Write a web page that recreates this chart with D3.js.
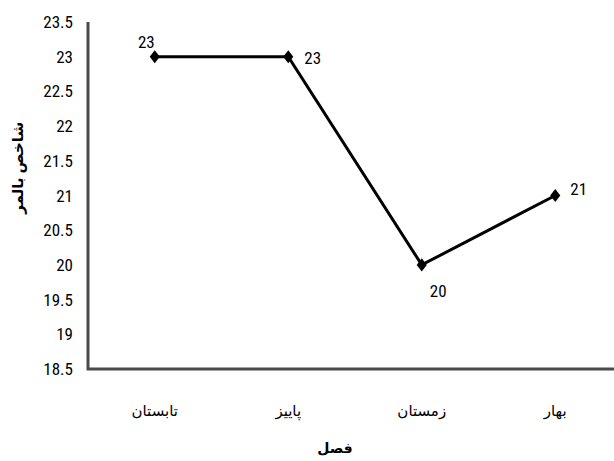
<!DOCTYPE html>
<html>
<head>
<meta charset="utf-8">
<script src="https://cdn.jsdelivr.net/npm/d3@7"></script>
<style>
  html, body { margin: 0; padding: 0; background: #fff; }
  svg { display: block; }
  .tick-label { font-family: "Roboto Condensed", Roboto, "Open Sans", sans-serif; font-size: 17px; fill: #000; }
  .cat-label { font-family: "Noto Sans", "DejaVu Sans", sans-serif; font-size: 15px; fill: #000; }
  .axis-title { font-family: "Noto Sans", "DejaVu Sans", sans-serif; font-weight: bold; fill: #000; }
</style>
</head>
<body>
<svg id="chart" width="614" height="461"></svg>
<script>
// Seasons, left to right, with the Palmer index for each
const seasons = ["تابستان", "پاییز", "زمستان", "بهار"];
const palmer = [23, 23, 20, 21];
const yTicks = [18.5, 19, 19.5, 20, 20.5, 21, 21.5, 22, 22.5, 23, 23.5];
const xTitle = "فصل";
const yTitle = "شاخص بالمر";

const svg = d3.select("#chart");
const plotLeft = 88, plotRight = 622, plotTop = 22, plotBottom = 369;

const x = d3.scaleBand().domain(seasons).range([plotLeft, plotRight]);
const y = d3.scaleLinear().domain([18.5, 23.5]).range([plotBottom, plotTop]);
const cx = d => x(d) + x.bandwidth() / 2;

// y tick labels
svg.append("g").selectAll("text").data(yTicks).join("text")
  .attr("class", "tick-label")
  .attr("x", 73).attr("y", d => y(d))
  .attr("text-anchor", "end").attr("dominant-baseline", "central")
  .text(d => d);

// axes lines
svg.append("path")
  .attr("d", `M${plotLeft},${plotTop} V${plotBottom} H614`)
  .attr("fill", "none").attr("stroke", "#4a4a4a").attr("stroke-width", 3);

// category labels
svg.append("g").selectAll("text").data(seasons).join("text")
  .attr("class", "cat-label")
  .attr("x", d => cx(d)).attr("y", 410)
  .attr("text-anchor", "middle").attr("dominant-baseline", "central")
  .attr("direction", "rtl")
  .text(d => d);

// axis titles
svg.append("text").attr("class", "axis-title")
  .attr("font-size", 14)
  .attr("x", 335).attr("y", 447)
  .attr("text-anchor", "middle").attr("dominant-baseline", "central")
  .text(xTitle);
svg.append("text").attr("class", "axis-title")
  .attr("font-size", 15)
  .attr("transform", `translate(17,${y(21.4)}) rotate(-90)`)
  .attr("text-anchor", "middle").attr("dominant-baseline", "central")
  .text(yTitle);

// series line
const pts = seasons.map((s, i) => [cx(s), y(palmer[i])]);
svg.append("path")
  .attr("d", d3.line()(pts))
  .attr("fill", "none").attr("stroke", "#000").attr("stroke-width", 3);

// diamond markers, a little taller than wide
svg.append("g").selectAll("path").data(pts).join("path")
  .attr("d", d3.symbol().type(d3.symbolDiamond2).size(90))
  .attr("transform", d => `translate(${d[0]},${d[1]}) scale(0.85,1.1)`)
  .attr("fill", "#000");

// value labels: offset from the marker, per point
const labelOffset = [[0, -15, "end"], [16, 1, "start"], [8, 26, "start"], [15, -7, "start"]];
svg.append("g").selectAll("text").data(pts).join("text")
  .attr("class", "tick-label")
  .attr("x", (d, i) => d[0] + labelOffset[i][0])
  .attr("y", (d, i) => d[1] + labelOffset[i][1])
  .attr("text-anchor", (d, i) => labelOffset[i][2])
  .attr("dominant-baseline", "central")
  .text((d, i) => palmer[i]);
</script>
</body>
</html>
